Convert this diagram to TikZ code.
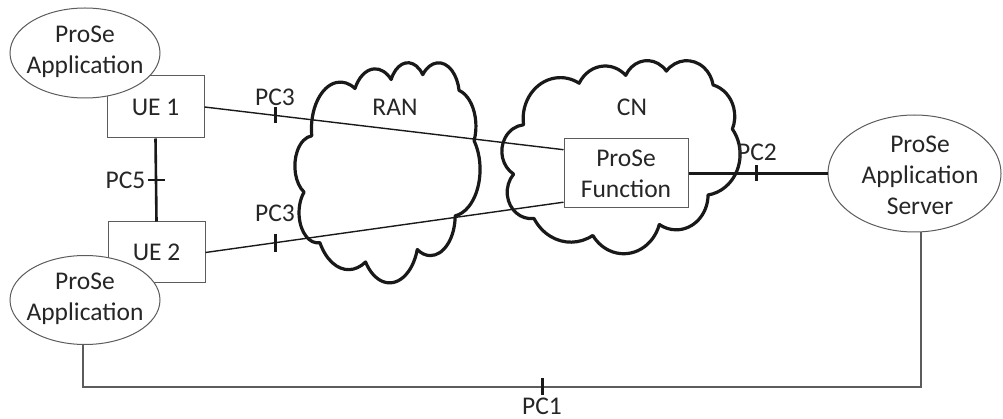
\documentclass[tikz,border=0pt]{standalone}
\usepackage{fontspec}
\setmainfont{Carlito}
\usetikzlibrary{calc,shapes.geometric}

\definecolor{txt}{RGB}{38,38,38}
\definecolor{edge}{RGB}{92,92,92}

% Cloud outline built from elliptical arcs on a 432 x 432 grid (y pointing down)
\tikzset{
  cloudshape/.pic={
    \draw[cloudline] (39.00,143.70)
      arc[start angle=-187.74, delta angle=128.11, x radius=67.53, y radius=91.90]
      arc[start angle=-152.02, delta angle=106.58, x radius=53.33, y radius=72.67]
      arc[start angle=-153.48, delta angle=116.16, x radius=43.65, y radius=59.45]
      arc[start angle=-139.70, delta angle=129.49, x radius=48.57, y radius=65.95]
      arc[start angle=-74.77,  delta angle=97.98,  x radius=53.33, y radius=72.73]
      arc[start angle=-37.52,  delta angle=119.38, x radius=67.75, y radius=92.20]
      arc[start angle=0.46,    delta angle=121.51, x radius=57.85, y radius=78.67]
      arc[start angle=16.85,   delta angle=129.39, x radius=67.52, y radius=92.15]
      arc[start angle=59.02,   delta angle=91.18,  x radius=77.20, y radius=105.43]
      arc[start angle=83.30,   delta angle=139.80, x radius=43.60, y radius=59.18]
      arc[start angle=120.36,  delta angle=143.75, x radius=43.45, y radius=59.45]
      -- cycle;
  },
  cloudline/.style={line width=3.2pt, black!90, line join=round},
  txtfont/.style={font=\fontsize{25.5}{31}\selectfont, text=txt},
  entity/.style={draw=edge, line width=1pt, fill=white, inner sep=0pt},
  boxnode/.style={entity, rectangle, txtfont, align=center},
  appnode/.style={entity, ellipse},
  inner/.style={txtfont, align=center, inner sep=0pt},
  lbl/.style={txtfont, inner sep=0pt},
  thinlink/.style={line width=1.4pt, black!90},
  thicklink/.style={line width=2.6pt, black!90},
  greylink/.style={line width=1.5pt, edge},
  tickline/.style={line width=2.6pt, black!90}
}

\begin{document}
\begin{tikzpicture}[x=1pt, y=-1pt]
\useasboundingbox (0,0) rectangle (1003,419);

% clouds
\begin{scope}[shift={(295,62)}, x=0.4282pt, y=-0.5093pt]
  \pic {cloudshape};
\end{scope}
\begin{scope}[shift={(502,60)}, x=0.5509pt, y=-0.4468pt]
  \pic {cloudshape};
\end{scope}
\node[lbl] (ran) at (395,107) {RAN};
\node[lbl] (cn) at (632,107) {CN};

% network elements
\node[boxnode, minimum width=97pt, minimum height=62pt] (ue1) at (155.5,107) {UE 1};
\node[boxnode, minimum width=97pt, minimum height=61pt] (ue2) at (156.5,252.5) {UE 2};
\node[boxnode, minimum width=124pt, minimum height=69pt] (func) at (626,173.5) {ProSe\\Function};

\coordinate (fw1) at ($(func.north west)!0.16!(func.south west)$);
\coordinate (fw2) at ($(func.north west)!0.91!(func.south west)$);

% applications
\node[appnode, minimum width=150pt, minimum height=90pt] (appTop) at (85,53) {};
\node[inner] (appTopText) at (85,52) {ProSe\\Application};
\node[appnode, minimum width=150pt, minimum height=89pt] (appBot) at (85,300) {};
\node[inner] (appBotText) at (85,299) {ProSe\\Application};
\node[appnode, minimum width=173pt, minimum height=117pt] (server) at (914.5,173.5) {};
\node[inner] (serverText) at (920,175) {ProSe\\Application\\Server};

% reference points
\draw[thinlink] (ue1.east) -- coordinate[pos=0.197] (t3a) (fw1);
\draw[thinlink] (ue2.east) -- coordinate[pos=0.195] (t3b) (fw2);
\draw[thicklink] (ue1.south) -- coordinate[pos=0.5] (t5) (ue2.north);
\draw[thicklink] (func.east) -- coordinate[pos=0.49] (t2) (server.west);

\coordinate (bl) at (83,387);
\coordinate (br) at (921,387);
\draw[greylink] (appBot.south -| bl) -- (bl) -- coordinate[pos=0.548] (t1) (br) -- (server.south -| br);

% ticks
\draw[tickline] ($(t3a)+(0,-8)$) -- ($(t3a)+(0,8)$);
\draw[tickline] ($(t3b)+(0,-9)$) -- ($(t3b)+(0,9)$);
\draw[tickline] ($(t5)+(-8,0)$) -- ($(t5)+(9,0)$);
\draw[tickline] ($(t2)+(0,-8)$) -- ($(t2)+(0,8)$);
\draw[tickline] ($(t1)+(0,-9)$) -- ($(t1)+(0,8)$);

% labels
\node[lbl] (pc3a) at (275,97) {PC3};
\node[lbl] (pc3b) at (275,213) {PC3};
\node[lbl] (pc5) at (125.5,180) {PC5};
\node[lbl] (pc2) at (757,152) {PC2};
\node[lbl] (pc1) at (542,406) {PC1};
\end{tikzpicture}
\end{document}
